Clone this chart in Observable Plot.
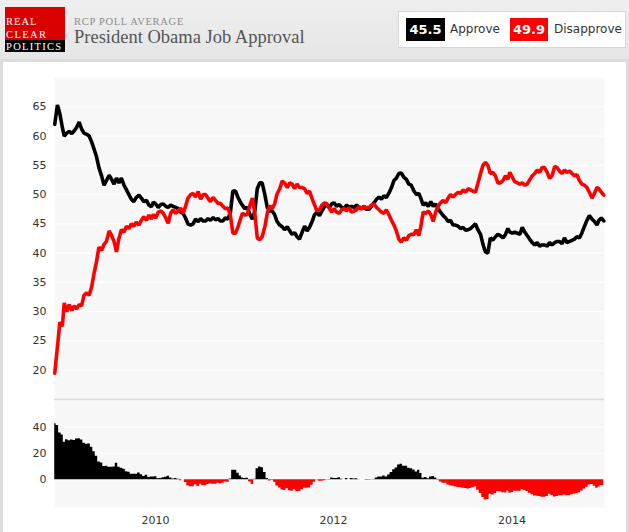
<!DOCTYPE html>
<html><head><meta charset="utf-8">
<script src="https://cdn.jsdelivr.net/npm/d3@7"></script>
<script src="https://cdn.jsdelivr.net/npm/@observablehq/plot@0.6"></script>
<style>
html,body{margin:0;padding:0}
body{width:629px;height:532px;overflow:hidden;background:#fff;position:relative;font-family:"DejaVu Sans",Verdana,sans-serif}
#hdr{position:absolute;left:0;top:0;width:629px;height:60px;background:linear-gradient(#efefef,#e5e5e5)}
#panel{position:absolute;left:0;top:59px;width:623px;height:480px;border:3px solid #dcdcdc;border-bottom:none;background:#fff}
.abs{position:absolute;white-space:nowrap}
#logoRed{left:5px;top:7px;width:60px;height:33px;background:#d80000}
#logoBlk{left:5px;top:40px;width:60px;height:12px;background:#000}
.logo{font-family:"Liberation Serif","Times New Roman",serif;color:#fff;font-size:10.5px;line-height:normal;left:6px}
#kicker{left:74px;top:17px;font-family:"Liberation Serif",serif;font-size:10.5px;line-height:10px;letter-spacing:0.7px;color:#8c8c8c}
#title{left:74px;top:29px;font-family:"Liberation Serif",serif;font-size:18.5px;line-height:17px;color:#555}
#legend{left:398px;top:11px;width:226px;height:35px;border:1px solid #d6d6d6;background:#fff}
.num{top:18px;height:23px;line-height:23px;font-size:13px;font-weight:bold;color:#fff;text-align:center}
.lab{top:18px;height:23px;line-height:23px;font-size:12px;color:#333}
svg.chart{position:absolute;left:0}
</style>
</head><body>
<div id="hdr"></div>
<div id="panel"></div>
<div class="abs" id="logoRed"></div>
<div class="abs" id="logoBlk"></div>
<div class="abs logo" style="top:16.4px;letter-spacing:1px">REAL</div>
<div class="abs logo" style="top:28.6px;letter-spacing:1.4px">CLEAR</div>
<div class="abs logo" style="top:40.8px;letter-spacing:1.3px">POLITICS</div>
<div class="abs" id="kicker">RCP POLL AVERAGE</div>
<div class="abs" id="title">President Obama Job Approval</div>
<div class="abs" id="legend"></div>
<div class="abs num" id="numA" style="left:406px;width:39px;background:#000"></div>
<div class="abs lab" style="left:450px">Approve</div>
<div class="abs num" id="numD" style="left:510px;width:38px;background:#f00"></div>
<div class="abs lab" style="left:554px">Disapprove</div>
<script>
// Samples on the 1st, 11th and 21st of each month, 21 Jan 2009 – 21 Mar 2015
const sampleDays = [1, 11, 21];
const firstSample = "2009-01-21";
const lastSample = "2015-03-21";
const xDomain = ["2009-01-20", "2015-03-24"];
const yearTicks = ["2010-01-01", "2012-01-01", "2014-01-01"];
const approveTicks = [20, 25, 30, 35, 40, 45, 50, 55, 60, 65];
const approveDomain = [15, 70];
const spreadTicks = [0, 20, 40];
const spreadDomain = [-21, 61];

const approve = [
  62.0,
  65.3, 63.8, 61.5, 60.0, 60.5, 60.8, 60.4, 60.9, 61.5, 62.4, 61.2, 60.5,
  60.3, 60.0, 59.0, 57.8, 56.5, 54.6, 53.2, 51.6, 52.4, 53.3, 52.6, 51.8,
  52.8, 52.0, 52.8, 51.6, 50.8, 50.0, 49.2, 48.8, 49.5,
  49.9, 49.4, 48.8, 49.0, 48.2, 47.9, 48.7, 48.4, 47.8, 48.3, 48.4, 48.0,
  47.8, 48.2, 48.0, 47.8, 47.6, 47.0, 46.8, 46.0, 45.0, 44.8, 45.0, 45.8,
  45.4, 45.9, 45.5, 45.5, 45.9, 45.6, 46.1, 45.7, 45.9, 45.5, 45.5, 46.0,
  45.8, 47.0, 50.6, 50.6, 49.5, 48.7, 48.2, 47.6, 47.8, 46.6, 45.8, 47.2,
  51.0, 52.0, 52.0, 50.0, 47.8, 47.2, 47.2, 46.6, 45.4, 44.8, 44.5, 44.0,
  44.5, 43.8, 43.2, 43.5, 42.8, 42.4, 43.6, 44.6, 43.8, 44.4, 45.3, 46.5,
  47.0, 46.4, 47.2, 48.0, 48.2, 47.8, 48.4, 48.6, 48.0, 48.3, 47.8, 47.6,
  48.2, 47.8, 48.0, 47.8, 48.2, 47.8, 47.6, 48.0, 47.5, 47.5, 48.0,
  48.6, 49.2, 49.6, 49.2, 49.8, 49.5, 50.2, 51.2, 52.4, 52.8, 53.6, 53.7,
  53.0, 52.6, 51.8, 51.6, 50.6, 50.0, 50.2, 49.4, 48.2, 48.6, 48.0, 48.8,
  48.0, 48.4, 47.6, 47.0, 46.4, 46.0, 45.4, 45.6, 44.8, 44.8, 44.6, 44.2,
  44.4, 43.9, 44.0, 44.2, 44.6, 45.0, 44.0, 43.2, 41.5, 40.2, 40.0, 42.6,
  42.2, 42.8, 43.2, 43.0, 42.6, 43.2, 44.2, 43.6, 43.4, 43.6, 43.4, 43.2,
  44.4, 43.6, 43.0, 42.4, 41.8, 41.4, 41.8, 41.2, 41.4, 41.4, 41.2, 41.8,
  41.4, 41.8, 42.0, 42.0, 41.6, 42.6, 41.8, 42.0, 42.2, 42.4, 42.8, 42.6,
  43.4, 44.6, 45.6, 46.4, 45.8, 45.4, 44.8, 45.6, 46.0, 45.5
];
const disapprove = [
  19.5,
  24.0, 28.2, 27.5, 31.5, 30.0, 31.2, 30.2, 31.0, 30.5, 31.2, 31.0, 32.8,
  33.2, 32.8, 34.2, 36.5, 38.5, 41.0, 40.5, 41.5, 42.0, 43.8, 43.0, 42.0,
  40.2, 42.5, 44.0, 43.6, 44.6, 44.2, 45.0, 44.6, 45.3,
  44.8, 45.6, 46.2, 45.6, 46.5, 45.8, 46.6, 46.0, 47.0, 47.2, 46.8, 46.0,
  45.1, 46.8, 47.4, 46.8, 47.2, 47.7, 46.8, 48.0, 49.4, 50.0, 50.2, 49.6,
  50.5, 49.2, 50.0, 50.0, 49.4, 48.8, 49.5, 49.0, 48.5, 48.5, 48.0, 47.6,
  47.7, 46.4, 43.4, 43.4, 44.5, 45.8, 46.8, 46.5, 46.6, 48.2, 49.4, 46.8,
  42.6, 42.3, 42.8, 44.5, 46.8, 48.1, 47.6, 48.4, 50.1, 51.0, 52.3, 52.0,
  51.2, 52.0, 51.8, 51.0, 51.8, 51.2, 51.2, 51.0, 50.2, 50.6, 49.4, 48.3,
  47.2, 47.4, 48.2, 48.6, 48.4, 47.6, 47.0, 47.6, 47.0, 46.8, 47.4, 47.6,
  47.2, 47.8, 47.0, 47.2, 47.4, 48.0, 47.5, 47.9, 47.8, 47.8, 48.2,
  48.4, 47.8, 47.4, 47.0, 46.8, 47.4, 46.6, 45.6, 44.8, 43.8, 42.4, 41.9,
  42.6, 42.2, 43.0, 43.2, 43.2, 44.0, 43.0, 44.5, 47.0, 46.8, 47.2, 46.6,
  45.4, 47.0, 48.0, 48.6, 49.0, 48.6, 49.4, 50.0, 49.6, 50.0, 50.4, 50.2,
  50.8, 50.4, 51.0, 50.8, 50.6, 50.4, 51.9, 53.6, 55.0, 55.5, 55.0, 53.6,
  53.8, 53.2, 52.0, 52.0, 52.4, 53.2, 52.6, 53.8, 53.0, 52.2, 52.0, 51.8,
  52.0, 51.6, 51.8, 52.5, 53.2, 53.6, 54.2, 53.8, 54.6, 54.6, 53.8, 52.8,
  53.2, 54.8, 54.6, 54.0, 53.6, 54.2, 53.8, 54.0, 53.6, 53.2, 53.4, 52.4,
  51.8, 51.6, 51.2, 50.4, 49.4, 50.2, 51.2, 51.0, 50.4, 49.9
];

const parse = s => new Date(s + "T00:00:00Z");
const dates = d3.utcMonth.range(parse("2009-01-01"), parse("2015-04-01"))
  .flatMap(m => sampleDays.map(d => new Date(Date.UTC(m.getUTCFullYear(), m.getUTCMonth(), d))))
  .filter(d => d >= parse(firstSample) && d <= parse(lastSample));
const rows = dates.map((date, i) => ({date, approve: approve[i], disapprove: disapprove[i], spread: approve[i] - disapprove[i]}));

document.getElementById("numA").textContent = approve[approve.length - 1].toFixed(1);
document.getElementById("numD").textContent = disapprove[disapprove.length - 1].toFixed(1);

const font = {background: "transparent", fontFamily: "'DejaVu Sans', Verdana, sans-serif", fontSize: "11px", color: "#333", overflow: "visible"};
const xOpts = {type: "utc", domain: xDomain.map(parse)};

const topChart = Plot.plot({
  width: 629, height: 400,
  marginLeft: 54, marginRight: 25, marginTop: 77, marginBottom: 1,
  style: font,
  x: {...xOpts, axis: null},
  y: {domain: approveDomain, ticks: approveTicks, tickSize: 0, tickPadding: 8, label: null},
  marks: [
    Plot.frame({fill: "#f7f7f7", stroke: "none"}),
    Plot.ruleY(approveTicks, {stroke: "#fff", strokeWidth: 1.2}),
    Plot.line(rows, {x: "date", y: "approve", stroke: "#000", strokeWidth: 3.6, strokeLinejoin: "miter"}),
    Plot.line(rows, {x: "date", y: "disapprove", stroke: "#f00", strokeWidth: 3.6, strokeLinejoin: "miter"})
  ]
});
topChart.classList.add("chart");
topChart.style.top = "0px";
document.body.appendChild(topChart);

const bottomChart = Plot.plot({
  width: 629, height: 134,
  marginLeft: 54, marginRight: 25, marginTop: 1, marginBottom: 25,
  style: font,
  x: {...xOpts, axis: null},
  y: {domain: spreadDomain, ticks: spreadTicks, tickSize: 0, tickPadding: 8, label: null},
  marks: [
    Plot.frame({fill: "#f7f7f7", stroke: "none"}),
    Plot.ruleY(spreadTicks, {stroke: "#fff", strokeWidth: 1.2}),
    Plot.ruleY([spreadDomain[1]], {stroke: "#dcdcdc", strokeWidth: 1.5}),
    Plot.areaY(rows, {x: "date", y1: 0, y2: d => Math.max(0, d.spread), fill: "#000", curve: "step"}),
    Plot.areaY(rows, {x: "date", y1: 0, y2: d => Math.min(0, d.spread), fill: "#f00", curve: "step"}),
    Plot.axisX({ticks: yearTicks.map(parse), tickFormat: "%Y", tickSize: 0, tickPadding: 9, textAnchor: "start", dx: 2.5, label: null, fill: "#333"})
  ]
});
bottomChart.classList.add("chart");
bottomChart.style.top = "398px";
document.body.appendChild(bottomChart);
</script>
</body></html>
